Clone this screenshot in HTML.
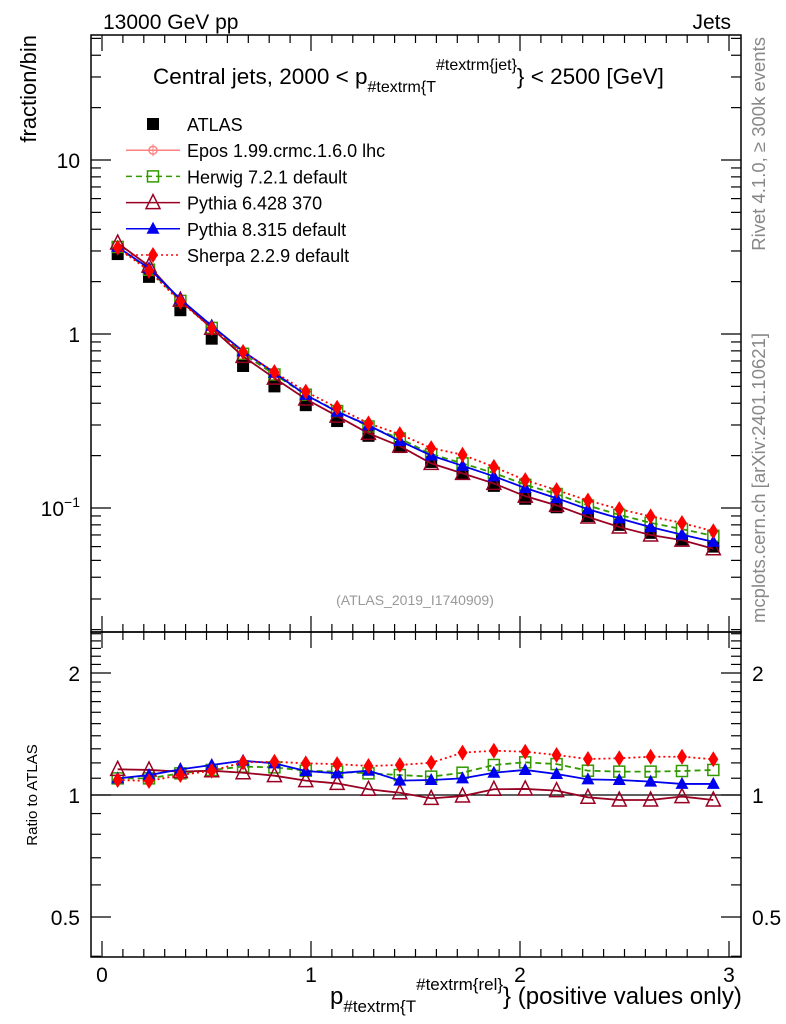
<!DOCTYPE html>
<html><head><meta charset="utf-8"><style>
body{margin:0;background:#fff;}
svg{display:block;font-family:"Liberation Sans",sans-serif;}
</style></head><body>
<svg id="c" width="786" height="1024" xmlns="http://www.w3.org/2000/svg"></svg>
<script>
const categories=[0.075,0.225,0.375,0.525,0.675,0.825,0.975,1.125,1.275,1.425,1.575,1.725,1.875,2.025,2.175,2.325,2.475,2.625,2.775,2.925];
const atlasValues=[2.88,2.13,1.37,0.94,0.655,0.50,0.39,0.316,0.26,0.224,0.184,0.159,0.134,0.113,0.101,0.090,0.080,0.072,0.066,0.060];
const herwigRatio=[1.099,1.099,1.131,1.153,1.175,1.17,1.148,1.142,1.131,1.12,1.11,1.135,1.186,1.204,1.192,1.148,1.142,1.142,1.146,1.153];
const pythia6Ratio=[1.157,1.153,1.142,1.148,1.135,1.116,1.085,1.068,1.033,1.013,0.981,0.994,1.033,1.035,1.025,0.987,0.972,0.972,0.991,0.972];
const pythia8Ratio=[1.099,1.12,1.157,1.186,1.215,1.197,1.146,1.131,1.148,1.085,1.089,1.099,1.135,1.153,1.127,1.093,1.089,1.079,1.065,1.065];
const sherpaRatio=[1.089,1.083,1.12,1.148,1.204,1.208,1.197,1.192,1.179,1.186,1.201,1.272,1.286,1.279,1.255,1.227,1.232,1.243,1.243,1.225];
const xTickLabels=["0","1","2","3"];
const mainTickLabels=["10","1"];
const ratioTickLabels=["0.5","1","2"];

const NS="http://www.w3.org/2000/svg";
const svg=document.getElementById('c');
function mk(tag,attrs,parent){const e=document.createElementNS(NS,tag);for(const k in attrs)e.setAttribute(k,attrs[k]);(parent||svg).appendChild(e);return e;}
const L=91,R=741,MT=35,MB=632,RT=632,RB=957;
const xS=v=>102+v*209;
const yM=v=>334-174*Math.log10(v);
const yR=v=>795-122*Math.log2(v);

let f=mk('rect',{x:L,y:MT,width:R-L,height:MB-MT,fill:'none',stroke:'#000','stroke-width':1.5});


f=mk('rect',{x:L,y:RT,width:R-L,height:RB-RT,fill:'none',stroke:'#000','stroke-width':1.5});



for(let i=0;i<=30;i++){const v=i/10;const x=xS(v);const maj=i%10==0;const len=maj?16:8;
 [[MB,-1],[MT,1],[RB,-1],[RT,1]].forEach(([y,d])=>{mk('line',{x1:x,x2:x,y1:y,y2:y+d*len,stroke:'#000','stroke-width':1.2});});
}
xTickLabels.forEach((t,i)=>{const e=mk('text',{x:xS(i),y:982,'font-size':21,'text-anchor':'middle'});e.textContent=t;
 
 });
for(let d=-2;d<=1;d++){for(let m=1;m<=9;m++){const v=m*Math.pow(10,d);const y=yM(v);if(y<MT||y>MB)continue;const len=m==1?20:10;
 mk('line',{x1:L,x2:L+len,y1:y,y2:y,stroke:'#000','stroke-width':1.2});mk('line',{x1:R,x2:R-len,y1:y,y2:y,stroke:'#000','stroke-width':1.2});}}
mainTickLabels.forEach((t,i)=>{const e=mk('text',{x:80,y:yM(t=="10"?10:1)+8,'font-size':21,'text-anchor':'end'});e.textContent=t;
 
 });
let e=mk('text',{x:80,y:yM(0.1)+8,'font-size':21,'text-anchor':'end'});e.innerHTML='10<tspan font-size="14" dy="-9">−1</tspan>';


for(let i=4;i<=25;i++){const v=i/10;const y=yR(v);if(y<RT||y>RB)continue;const maj=(i==5||i==10||i==20);const len=maj?20:10;
 mk('line',{x1:L,x2:L+len,y1:y,y2:y,stroke:'#000','stroke-width':1.2});mk('line',{x1:R,x2:R-len,y1:y,y2:y,stroke:'#000','stroke-width':1.2});}
ratioTickLabels.forEach(t=>{const v=parseFloat(t);[[80,'end'],[752,'start']].forEach(([x,a])=>{const e=mk('text',{x:x,y:yR(v)+8,'font-size':21,'text-anchor':a});e.textContent=t;
 
 });});
mk('line',{x1:L,x2:R,y1:yR(1),y2:yR(1),stroke:'#000','stroke-width':1.2});

function marker(type,x,y,col,g){
 if(type=='sq')mk('rect',{x:x-6,y:y-6,width:12,height:12,fill:'#000'},g);
 else if(type=='osq')mk('rect',{x:x-5.5,y:y-5.5,width:11,height:11,fill:'none',stroke:col,'stroke-width':1.5},g);
 else if(type=='otri')mk('polygon',{points:`${x},${y-8} ${x-7},${y+6} ${x+7},${y+6}`,fill:'none',stroke:col,'stroke-width':1.5},g);
 else if(type=='tri')mk('polygon',{points:`${x},${y-7} ${x-6.5},${y+5} ${x+6.5},${y+5}`,fill:col},g);
 else if(type=='dia')mk('polygon',{points:`${x},${y-8} ${x-5},${y} ${x},${y+8} ${x+5},${y}`,fill:col},g);
}
const series=[
 {name:'herwig',r:herwigRatio,col:'#339900',dash:'6,4',m:'osq'},
 {name:'pythia6',r:pythia6Ratio,col:'#990022',dash:'',m:'otri'},
 {name:'pythia8',r:pythia8Ratio,col:'#0000ee',dash:'',m:'tri'},
 {name:'sherpa',r:sherpaRatio,col:'#ff0000',dash:'2,3',m:'dia'}];
let ga=mk('g',{});


categories.forEach((c,i)=>marker('sq',xS(c),yM(atlasValues[i]),'#000',ga));
series.forEach(s=>{
 const g=mk('g',{});
 
 
 const pts=categories.map((c,i)=>[xS(c),yM(atlasValues[i]*s.r[i])]);
 mk('polyline',{points:pts.map(p=>p.join(',')).join(' '),fill:'none',stroke:s.col,'stroke-width':1.8,'stroke-dasharray':s.dash},g);
 pts.forEach(p=>marker(s.m,p[0],p[1],s.col,g));
 const g2=mk('g',{});
 
 
 const p2=categories.map((c,i)=>[xS(c),yR(s.r[i])]);
 mk('polyline',{points:p2.map(p=>p.join(',')).join(' '),fill:'none',stroke:s.col,'stroke-width':1.8,'stroke-dasharray':s.dash},g2);
 p2.forEach(p=>marker(s.m,p[0],p[1],s.col,g2));
});
const leg=[['ATLAS','sq','#000',''],['Epos 1.99.crmc.1.6.0 lhc','epos','#ff8080',''],['Herwig 7.2.1 default','osq','#339900','6,4'],['Pythia 6.428 370','otri','#990022',''],['Pythia 8.315 default','tri','#0000ee',''],['Sherpa 2.2.9 default','dia','#ff0000','2,3']];
leg.forEach((l,i)=>{const y=124+i*26.2;const g=mk('g',{});
 
 
 if(l[1]!='sq')mk('line',{x1:126,x2:180,y1:y,y2:y,stroke:l[2],'stroke-width':1.5,'stroke-dasharray':l[3]},g);
 if(l[1]=='epos'){mk('circle',{cx:153,cy:y,r:4,fill:'none',stroke:l[2],'stroke-width':1.5},g);mk('line',{x1:153,x2:153,y1:y-6,y2:y+6,stroke:l[2]},g);}
 else marker(l[1],153,y,l[2],g);
 const t=mk('text',{x:187,y:y+7,'font-size':18},g);t.textContent=l[0];});
function txt(s,attrs,name){const t=mk('text',attrs);t.innerHTML=s;return t;}
txt('13000 GeV pp',{x:103,y:29,'font-size':21},'energy-label');
txt('Jets',{x:731,y:29,'font-size':21,'text-anchor':'end'},'process-label');
txt('Central jets, 2000 &lt; p<tspan font-size="16" dy="8">#textrm{T</tspan><tspan font-size="16" dy="-22">#textrm{jet}</tspan><tspan dy="14">} &lt; 2500 [GeV]</tspan>',{x:153,y:84,'font-size':22.5},'plot-title');
txt('fraction/bin',{x:0,y:0,'font-size':22,'text-anchor':'end',transform:'translate(36,35) rotate(-90)'},'y-axis-title');
txt('Ratio to ATLAS',{x:0,y:0,'font-size':15,'text-anchor':'middle',transform:'translate(37,795) rotate(-90)'},'ratio-axis-title');
txt('Rivet 4.1.0, ≥ 300k events',{x:0,y:0,'font-size':18.5,fill:'#888','text-anchor':'end',transform:'translate(765,37) rotate(-90)'},'rivet-label');
txt('mcplots.cern.ch [arXiv:2401.10621]',{x:0,y:0,'font-size':18.5,fill:'#888','text-anchor':'end',transform:'translate(765,333) rotate(-90)'},'mcplots-label');
txt('(ATLAS_2019_I1740909)',{x:415,y:605,'font-size':14,fill:'#999','text-anchor':'middle'},'analysis-id');
txt('p<tspan font-size="17" dy="8">#textrm{T</tspan><tspan font-size="17" dy="-22">#textrm{rel}</tspan><tspan dy="14">} (positive values only)</tspan>',{x:330,y:1004,'font-size':24},'x-axis-title');
</script>
</body></html>
